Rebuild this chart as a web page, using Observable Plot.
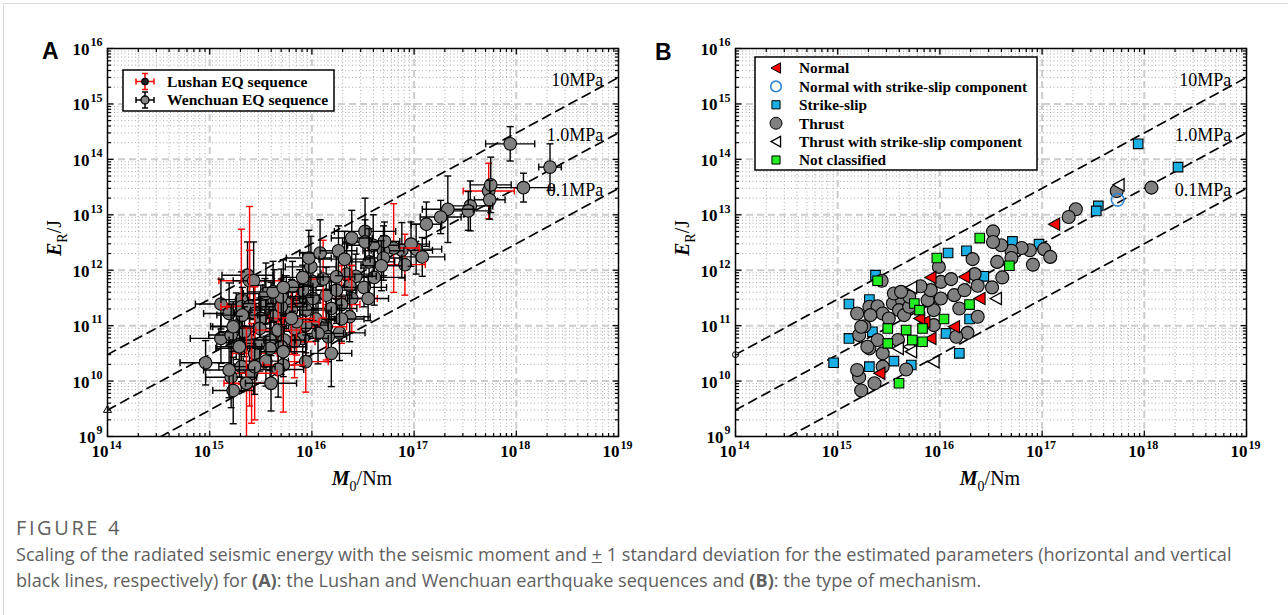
<!DOCTYPE html>
<html>
<head>
<meta charset="utf-8">
<script src="https://cdn.jsdelivr.net/npm/d3@7"></script>
<script src="https://cdn.jsdelivr.net/npm/@observablehq/plot@0.6"></script>
<style>
html,body{margin:0;padding:0;background:#fff;}
body{width:1288px;height:615px;position:relative;overflow:hidden;}
#border{position:absolute;left:3px;top:3px;width:1300px;height:630px;border-top:1px solid #dadada;border-left:1px solid #dadada;}
#panelA{position:absolute;left:0;top:0;}
#panelB{position:absolute;left:628px;top:0;}
#caption{position:absolute;left:16px;top:515px;font-family:"Open Sans",sans-serif;color:#606060;white-space:nowrap;}
#caption .fig{font-size:20px;line-height:26px;letter-spacing:2.6px;}
#caption .txt{font-size:18.1px;line-height:26px;margin-top:0px;}
</style>
</head>
<body>
<div id="border"></div>
<div id="panelA"></div>
<div id="panelB"></div>
<div id="caption"><div class="fig">FIGURE 4</div><div class="txt">Scaling of the radiated seismic energy with the seismic moment and <u>+</u> 1 standard deviation for the estimated parameters (horizontal and vertical<br>black lines, respectively) for <b>(A)</b>: the Lushan and Wenchuan earthquake sequences and <b>(B)</b>: the type of mechanism.</div></div>
<script>
// ---------------- DATA (log10 values) ----------------
const logM0 = [
 17.94,18.33,18.07,17.73,17.75,17.74,17.55,17.53,17.33,17.26,
 17.12,17.02,17.08,16.91,16.88,16.97,16.80,16.70,16.60,16.52,
 16.52,16.39,16.71,16.56,16.70,16.68,16.61,16.43,16.34,16.37,
 16.51,16.39,16.55,16.29,16.19,16.37,16.29,16.27,16.14,16.16,
 16.06,16.19,15.94,15.91,15.83,16.04,15.94,15.94,15.88,16.01,
 16.14,16.24,15.91,16.01,16.11,15.91,16.24,15.99,15.97,16.08,
 16.26,16.32,15.83,15.85,15.37,15.39,15.43,15.11,15.31,15.19,
 15.31,15.39,15.26,15.44,15.54,15.63,15.60,15.50,15.65,15.75,
 15.80,15.70,15.11,15.21,15.31,15.39,15.44,15.34,15.49,15.67,
 15.49,15.59,15.73,15.80,15.70,15.59,14.96,15.55,15.72,15.67,
 15.31,15.41,15.44,15.21,15.36,15.23,15.60,15.55,15.32,15.23,
 15.29,15.19,15.81,15.70,15.62,15.72,15.72];
const logER = [
 14.28,13.86,13.49,13.43,13.54,13.27,13.16,13.07,13.10,12.96,
 12.83,12.38,12.24,12.10,12.36,12.47,12.40,12.35,12.45,12.70,
 12.51,12.58,12.52,12.15,12.22,12.08,11.87,11.89,11.93,11.72,
 11.69,11.49,11.49,11.38,11.31,11.16,11.12,10.87,10.98,10.80,
 10.86,10.50,10.35,10.77,10.71,11.12,11.01,11.28,11.46,11.49,
 11.55,11.64,11.64,11.79,11.84,11.87,11.88,12.06,12.22,12.31,
 12.35,12.20,10.95,11.07,11.91,11.81,11.81,11.39,11.47,11.22,
 11.34,11.35,10.99,11.22,11.40,11.46,11.28,11.13,11.19,11.40,
 11.28,11.34,10.77,10.83,10.59,10.74,10.50,10.89,10.95,10.92,
 10.68,10.74,10.74,11.13,10.62,10.59,10.33,10.36,10.29,10.21,
 10.26,10.14,10.26,10.07,9.96,9.83,9.96,11.58,11.19,10.98,
 10.62,10.20,11.71,11.52,11.61,11.69,10.53];
// N normal, NS normal+strike-slip, S strike-slip, T thrust, TS thrust+strike-slip, U not classified
const mechanism = [
 "S","S","T","T","TS","NS","S","S","T","T",
 "N","T","T","T","T","S","T","T","T","T",
 "T","U","S","T","T","U","T","S","T","T",
 "T","N","TS","U","T","T","S","T","N","T",
 "S","S","TS","N","U","U","T","T","T","T",
 "T","T","T","T","T","N","N","T","U","S",
 "S","T","U","N","S","U","T","S","S","T",
 "T","T","T","T","T","T","T","T","T","U",
 "U","T","S","T","T","T","T","S","U","U",
 "U","T","U","N","TS","TS","S","S","S","T",
 "S","N","T","T","T","T","U","T","T","T",
 "T","T","T","T","T","TS","TS"];
// L = Lushan, W = Wenchuan
const sequence = [
 "W","W","W","L","W","W","W","W","W","W",
 "W","W","W","L","W","W","L","W","W","W",
 "W","W","W","W","W","W","W","W","W","W",
 "W","L","W","L","W","W","W","W","L","W",
 "W","W","L","W","L","W","W","W","W","W",
 "W","W","W","W","L","W","W","W","W","W",
 "W","W","W","L","W","L","W","W","W","W",
 "L","L","W","W","W","W","W","W","W","W",
 "W","W","W","W","W","W","L","W","W","L",
 "W","W","W","L","W","W","W","W","L","W",
 "W","L","W","W","L","W","W","W","W","W",
 "W","W","W","W","W","W","W"];
const sdLogM0 = [
 .24,.11,.30,.25,.20,.15,.22,.20,.25,.20,
 .15,.25,.22,.20,.30,.18,.25,.20,.25,.30,
 .22,.20,.15,.25,.18,.20,.30,.20,.25,.20,
 .22,.25,.20,.18,.25,.20,.22,.25,.20,.18,
 .25,.20,.22,.25,.20,.18,.22,.25,.20,.22,
 .25,.20,.28,.22,.25,.20,.18,.25,.22,.20,
 .18,.25,.20,.22,.25,.30,.20,.25,.20,.25,
 .20,.22,.25,.20,.22,.25,.20,.22,.18,.20,
 .22,.25,.30,.22,.25,.20,.22,.25,.20,.22,
 .18,.25,.20,.22,.25,.20,.25,.22,.20,.25,
 .22,.25,.20,.25,.22,.20,.25,.22,.25,.20,
 .22,.25,.20,.22,.25,.20,.22];
const sdLogER = [
 .31,.42,.26,.50,.50,.35,.45,.35,.60,.30,
 .40,.45,.35,.55,.50,.40,.80,.45,.55,.60,
 .40,.50,.35,.60,.40,.45,.50,.40,.55,.45,
 .35,.60,.40,.70,.50,.45,.40,.50,.60,.45,
 .55,.60,.55,.50,.65,.40,.50,.45,.55,.40,
 .50,.60,.45,.50,.70,.45,.40,.55,.50,.60,
 .45,.50,.45,.60,.60,.55,.70,.45,.50,.55,
 1.40,1.80,.60,.50,.45,.55,.50,.60,.45,.50,
 .55,.50,.45,.55,.60,.50,1.20,.45,.55,.60,
 .50,.55,.45,.65,.50,.55,.40,.45,.85,.50,
 .45,.90,.50,.55,1.00,.60,.50,.55,.50,.45,
 .55,.50,.45,.50,.55,.50,.45];

const stressLabels = ["10MPa", "1.0MPa", "0.1MPa"];
const stressRatio = [3e-4, 3e-5, 3e-6];          // E_R / M0 along each reference line
const xTickExp = [14, 15, 16, 17, 18, 19];
const yTickExp = [9, 10, 11, 12, 13, 14, 15, 16];
const mechCodes = ["N", "NS", "S", "T", "TS", "U"];
const mechNames = ["Normal", "Normal with strike-slip component", "Strike-slip", "Thrust",
                   "Thrust with strike-slip component", "Not classified"];
const seqCodes = ["L", "W"];
const seqNames = ["Lushan EQ sequence", "Wenchuan EQ sequence"];

// ---------------- STYLE ----------------
const SERIF = "'Liberation Serif','Times New Roman',serif";
const SANS = "'Liberation Sans',Arial,sans-serif";
const GRAY = "#808080", RED = "#ff0000", BLUE = "#1ab0e6", GREEN = "#22ee22", OBLUE = "#2f86d2";

const seg = (x1, y1, x2, y2) => ({draw(c) { c.moveTo(x1, y1); c.lineTo(x2, y2); }});
const triLeft = {draw(c, size) { const s = Math.sqrt(size / Math.PI);
  c.moveTo(-1.05 * s, 0); c.lineTo(0.95 * s, -1.1 * s); c.lineTo(0.95 * s, 1.1 * s); c.closePath(); }};
const capH = seg(-3.5, 0, 3.5, 0), capV = seg(0, -3.5, 0, 3.5);

const pts = logM0.map((lm, i) => ({
  M0: 10 ** lm, ER: 10 ** logER[i], mech: mechanism[i], seq: sequence[i],
  M0lo: 10 ** (lm - sdLogM0[i]), M0hi: 10 ** (lm + sdLogM0[i]),
  ERlo: 10 ** (logER[i] - sdLogER[i]), ERhi: 10 ** (logER[i] + sdLogER[i])
}));

const xMajor = xTickExp.map(e => 10 ** e);
const yMajor = yTickExp.map(e => 10 ** e);
const xMinor = [], yMinor = [];
for (let e = 14; e < 19; e++) for (let m = 2; m <= 9; m++) xMinor.push(m * 10 ** e);
for (let e = 9; e < 16; e++) for (let m = 2; m <= 9; m++) yMinor.push(m * 10 ** e);

const stressLines = stressLabels.flatMap((s, i) => [
  {level: s, M0: 1e14, ER: stressRatio[i] * 1e14},
  {level: s, M0: 1e19, ER: stressRatio[i] * 1e19}]);
const labelX = 10 ** 18.85;
const stressText = stressLabels.map((s, i) => ({level: s, M0: labelX, ER: stressRatio[i] * labelX}));

function gridMarks() {
  return [
    Plot.ruleX(xMinor, {x: d => d, stroke: "#a3a3a3", strokeWidth: 0.9, strokeDasharray: "1,2.5"}),
    Plot.ruleY(yMinor, {y: d => d, stroke: "#a3a3a3", strokeWidth: 0.9, strokeDasharray: "1,2.5"}),
    Plot.ruleX(xMajor.slice(1, -1), {x: d => d, stroke: "#cdcdcd", strokeWidth: 2, strokeDasharray: "7,4"}),
    Plot.ruleY(yMajor.slice(1, -1), {y: d => d, stroke: "#cdcdcd", strokeWidth: 2, strokeDasharray: "7,4"}),
    Plot.line(stressLines, {x: "M0", y: "ER", z: "level", stroke: "black", strokeWidth: 1.7, strokeDasharray: "9,6", clip: true})
  ];
}
function frameMarks() {
  const tk = {fill: "none", stroke: "black", strokeWidth: 1.2};
  return [
    Plot.frame({stroke: "black", strokeWidth: 1.5}),
    Plot.dot(xMajor, {x: d => d, frameAnchor: "bottom", symbol: seg(0, 0, 0, -6), ...tk}),
    Plot.dot(xMajor, {x: d => d, frameAnchor: "top", symbol: seg(0, 0, 0, 6), ...tk}),
    Plot.dot(xMinor, {x: d => d, frameAnchor: "bottom", symbol: seg(0, 0, 0, -3.5), ...tk}),
    Plot.dot(xMinor, {x: d => d, frameAnchor: "top", symbol: seg(0, 0, 0, 3.5), ...tk}),
    Plot.dot(yMajor, {y: d => d, frameAnchor: "left", symbol: seg(0, 0, 6, 0), ...tk}),
    Plot.dot(yMajor, {y: d => d, frameAnchor: "right", symbol: seg(0, 0, -6, 0), ...tk}),
    Plot.dot(yMinor, {y: d => d, frameAnchor: "left", symbol: seg(0, 0, 3.5, 0), ...tk}),
    Plot.dot(yMinor, {y: d => d, frameAnchor: "right", symbol: seg(0, 0, -3.5, 0), ...tk}),
    // tick labels
    Plot.text(xTickExp, {x: e => 10 ** e, frameAnchor: "bottom", text: () => "10", textAnchor: "end", dx: 1, dy: 20,
      fontFamily: SERIF, fontWeight: "bold", fontSize: 17, fill: "black"}),
    Plot.text(xTickExp, {x: e => 10 ** e, frameAnchor: "bottom", text: e => String(e), textAnchor: "start", dx: 2, dy: 12,
      fontFamily: SERIF, fontWeight: "bold", fontSize: 12, fill: "black"}),
    Plot.text(yTickExp, {y: e => 10 ** e, frameAnchor: "left", text: e => String(e), textAnchor: "end", dx: -5, dy: -6,
      fontFamily: SERIF, fontWeight: "bold", fontSize: 12, fill: "black"}),
    Plot.text(yTickExp.filter(e => e >= 10), {y: e => 10 ** e, frameAnchor: "left", text: () => "10", textAnchor: "end", dx: -18, dy: 1,
      fontFamily: SERIF, fontWeight: "bold", fontSize: 17, fill: "black"}),
    Plot.text(yTickExp.filter(e => e < 10), {y: e => 10 ** e, frameAnchor: "left", text: () => "10", textAnchor: "end", dx: -12, dy: 1,
      fontFamily: SERIF, fontWeight: "bold", fontSize: 17, fill: "black"}),
    Plot.text(stressText, {x: "M0", y: "ER", text: "level", textAnchor: "end", dy: -6,
      fontFamily: SERIF, fontSize: 18, fill: "black"})
  ];
}
const plotOpts = {
  width: 644, height: 500, marginLeft: 107, marginRight: 26, marginTop: 48, marginBottom: 64,
  x: {type: "log", domain: [1e14, 1e19], axis: null},
  y: {type: "log", domain: [1e9, 1e16], axis: null},
  style: {background: "transparent", overflow: "visible"}
};

// ---------------- PANEL A ----------------
const marksA = [...gridMarks(),
  Plot.dot(stressLines.filter(d => d.M0 === 1e14 && d.level === "1.0MPa"), {x: "M0", y: "ER", symbol: "triangle", r: 3, fill: "none", stroke: "black", strokeWidth: 1})];
for (const p of pts) {
  const col = p.seq === "L" ? RED : "black";
  marksA.push(Plot.link([{x1: p.M0lo, x2: p.M0hi, y1: p.ER, y2: p.ER}, {x1: p.M0, x2: p.M0, y1: p.ERlo, y2: p.ERhi}],
    {x1: "x1", x2: "x2", y1: "y1", y2: "y2", stroke: col, strokeWidth: 1.4, clip: true}));
  marksA.push(Plot.dot([{x: p.M0lo, y: p.ER}, {x: p.M0hi, y: p.ER}], {x: "x", y: "y", symbol: capV, fill: "none", stroke: col, strokeWidth: 1.4, clip: true}));
  marksA.push(Plot.dot([{x: p.M0, y: p.ERlo}, {x: p.M0, y: p.ERhi}], {x: "x", y: "y", symbol: capH, fill: "none", stroke: col, strokeWidth: 1.4, clip: true}));
  marksA.push(Plot.dot([p], {x: "M0", y: "ER", r: 6.3, fill: GRAY, stroke: "black", strokeWidth: 1.1}));
}
marksA.push(...frameMarks());
const svgA = Plot.plot({...plotOpts, marks: marksA});
document.getElementById("panelA").appendChild(svgA);

// ---------------- PANEL B ----------------
const styleB = {
  S: {symbol: "square", r: 5.4, fill: BLUE, stroke: "black", strokeWidth: 1.1},
  T: {symbol: "circle", r: 6.5, fill: GRAY, stroke: "black", strokeWidth: 1.1},
  TS: {symbol: triLeft, r: 5.6, fill: "white", stroke: "black", strokeWidth: 1.3},
  N: {symbol: triLeft, r: 5.6, fill: RED, stroke: "black", strokeWidth: 1.1},
  U: {symbol: "square", r: 5.4, fill: GREEN, stroke: "black", strokeWidth: 1.1},
  NS: {symbol: "circle", r: 6.3, fill: "none", stroke: OBLUE, strokeWidth: 1.6}
};
const marksB = [...gridMarks(),
  Plot.dot(stressLines.filter(d => d.M0 === 1e14 && d.level === "10MPa"), {x: "M0", y: "ER", r: 3, fill: "white", stroke: "black", strokeWidth: 1})];
for (const code of ["S", "T", "TS", "N", "U", "NS"]) {
  marksB.push(Plot.dot(pts.filter(p => p.mech === code), {x: "M0", y: "ER", ...styleB[code]}));
}
marksB.push(...frameMarks());
const svgB = Plot.plot({...plotOpts, marks: marksB});
document.getElementById("panelB").appendChild(svgB);

// ---------------- ANNOTATIONS (titles, panel letters, legends) ----------------
function axisTitles(svg) {
  const s = d3.select(svg);
  const xt = s.append("text").attr("x", 362).attr("y", 485).attr("text-anchor", "middle")
    .attr("font-family", SERIF).attr("font-size", 20).attr("fill", "black");
  xt.append("tspan").attr("font-weight", "bold").attr("font-style", "italic").text("M");
  xt.append("tspan").attr("font-size", 14).attr("dy", 6).text("0");
  xt.append("tspan").attr("dy", -6).text("/Nm");
  const yt = s.append("text").attr("transform", "translate(61,238) rotate(-90)").attr("text-anchor", "middle")
    .attr("font-family", SERIF).attr("font-size", 20).attr("fill", "black");
  yt.append("tspan").attr("font-weight", "bold").attr("font-style", "italic").text("E");
  yt.append("tspan").attr("font-size", 14).attr("dy", 6).text("R");
  yt.append("tspan").attr("dy", -6).text("/J");
}
axisTitles(svgA); axisTitles(svgB);
d3.select(svgA).append("text").attr("x", 42).attr("y", 59).attr("text-anchor", "start").attr("font-family", SANS).attr("font-weight", "bold")
  .attr("font-size", 23).attr("fill", "black").text("A");
d3.select(svgB).append("text").attr("x", 27).attr("y", 60).attr("text-anchor", "start").attr("font-family", SANS).attr("font-weight", "bold")
  .attr("font-size", 23).attr("fill", "black").text("B");

// legend A
{
  const g = d3.select(svgA).append("g").attr("text-anchor", "start");
  g.append("rect").attr("x", 123).attr("y", 70).attr("width", 211).attr("height", 41)
    .attr("fill", "white").attr("stroke", "black").attr("stroke-width", 1.5);
  seqCodes.forEach((code, i) => {
    const y = 81.5 + i * 18.5, x = 145, col = code === "L" ? RED : "black";
    const e = g.append("g").attr("stroke", col).attr("stroke-width", 1.5);
    e.append("line").attr("x1", x - 9).attr("x2", x + 9).attr("y1", y).attr("y2", y);
    e.append("line").attr("x1", x).attr("x2", x).attr("y1", y - 8).attr("y2", y + 8);
    e.append("line").attr("x1", x - 3).attr("x2", x + 3).attr("y1", y - 8).attr("y2", y - 8);
    e.append("line").attr("x1", x - 3).attr("x2", x + 3).attr("y1", y + 8).attr("y2", y + 8);
    e.append("line").attr("x1", x - 9).attr("x2", x - 9).attr("y1", y - 3).attr("y2", y + 3);
    e.append("line").attr("x1", x + 9).attr("x2", x + 9).attr("y1", y - 3).attr("y2", y + 3);
    g.append("circle").attr("cx", x).attr("cy", y).attr("r", code === "L" ? 3.2 : 4)
      .attr("fill", code === "L" ? "#222" : "#888").attr("stroke", "black").attr("stroke-width", 1.3);
    g.append("text").attr("x", 167).attr("y", y).attr("dy", "0.35em").attr("text-anchor", "start").attr("font-family", SERIF)
      .attr("font-weight", "bold").attr("font-size", 15.6).attr("fill", "black").text(seqNames[i]);
  });
}
// legend B
{
  const g = d3.select(svgB).append("g").attr("text-anchor", "start");
  g.append("rect").attr("x", 127).attr("y", 57).attr("width", 282).attr("height", 113)
    .attr("fill", "white").attr("stroke", "black").attr("stroke-width", 1.5);
  const legStyle = {
    N: {sym: triLeft, r: 4.8, fill: RED, stroke: "black", sw: 1},
    NS: {sym: d3.symbolCircle, r: 5.3, fill: "none", stroke: OBLUE, sw: 1.6},
    S: {sym: d3.symbolSquare, r: 4.6, fill: BLUE, stroke: "black", sw: 1},
    T: {sym: d3.symbolCircle, r: 6, fill: GRAY, stroke: "black", sw: 1},
    TS: {sym: triLeft, r: 4.8, fill: "white", stroke: "black", sw: 1.3},
    U: {sym: d3.symbolSquare, r: 4.6, fill: GREEN, stroke: "black", sw: 1}
  };
  mechCodes.forEach((code, i) => {
    const y = 68 + i * 18.4, st = legStyle[code];
    g.append("path").attr("transform", `translate(148,${y})`)
      .attr("d", d3.symbol(st.sym, Math.PI * st.r * st.r)())
      .attr("fill", st.fill).attr("stroke", st.stroke).attr("stroke-width", st.sw);
    g.append("text").attr("x", 171).attr("y", y).attr("dy", "0.35em").attr("text-anchor", "start").attr("font-family", SERIF)
      .attr("font-weight", "bold").attr("font-size", 15.3).attr("fill", "black").text(mechNames[i]);
  });
}
</script>
</body>
</html>
